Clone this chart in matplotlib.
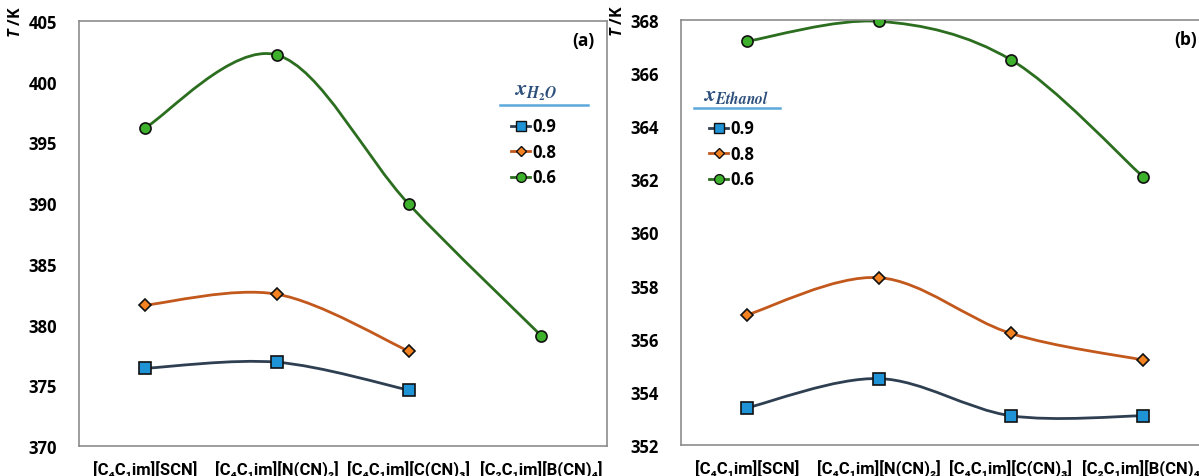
import matplotlib
matplotlib.use('Agg')
import matplotlib.pyplot as plt
from matplotlib.path import Path
from matplotlib.patches import PathPatch
from matplotlib.lines import Line2D

plt.rcParams['font.family'] = ['Open Sans', 'DejaVu Sans']
plt.rcParams['font.weight'] = 'bold'
plt.rcParams['mathtext.fontset'] = 'custom'
plt.rcParams['mathtext.rm'] = 'Open Sans:bold'
plt.rcParams['mathtext.bf'] = 'Open Sans:bold'
plt.rcParams['mathtext.it'] = 'Open Sans:bold:italic'
plt.rcParams['mathtext.bfit'] = 'Open Sans:bold:italic'

# данные
labels = ['[C₄C₁im][SCN]', '[C₄C₁im][N(CN)₂]',
          '[C₄C₁im][C(CN)₃]', '[C₂C₁im][B(CN)₄]']
fractions = ['0.9', '0.8', '0.6']

water_09 = [376.4, 376.9, 374.6]
water_08 = [381.6, 382.5, 377.8]
water_06 = [396.2, 402.2, 389.9, 379.1]

ethanol_09 = [353.4, 354.5, 353.1, 353.1]
ethanol_08 = [356.9, 358.3, 356.2, 355.2]
ethanol_06 = [367.2, 367.95, 366.5, 362.1]

line_colors = ['#2f3f52', '#c2581c', '#2c6e1f']
face_colors = ['#1e93d6', '#f58220', '#3db02c']
markers = ['s', 'D', 'o']
msizes = [8, 6, 8]


def smooth_path(x, y):
    # сглаженная линия как в Excel (кубические Безье)
    pts = list(zip(x, y))
    verts = [pts[0]]
    codes = [Path.MOVETO]
    n = len(pts)
    for i in range(n - 1):
        p0 = pts[i - 1] if i > 0 else pts[i]
        p1 = pts[i]
        p2 = pts[i + 1]
        p3 = pts[i + 2] if i + 2 < n else pts[i + 1]
        c1 = (p1[0] + (p2[0] - p0[0]) / 6, p1[1] + (p2[1] - p0[1]) / 6)
        c2 = (p2[0] - (p3[0] - p1[0]) / 6, p2[1] - (p3[1] - p1[1]) / 6)
        verts += [c1, c2, p2]
        codes += [Path.CURVE4] * 3
    return Path(verts, codes)


W, H = 1199, 477
fig = plt.figure(figsize=(W / 100, H / 100), dpi=100)
ax1 = fig.add_axes([79 / W, 30 / H, 528 / W, 425 / H])
ax2 = fig.add_axes([681 / W, 31 / H, 528 / W, 425 / H])


def draw(ax, series, ylim, yticks, letter, title, title_xy, leg_xy, line_x):
    for k, vals in enumerate(series):
        xs = list(range(len(vals)))
        ax.add_patch(PathPatch(smooth_path(xs, vals), fill=False,
                               edgecolor=line_colors[k], lw=2, zorder=2))
        ax.plot(xs, vals, ls='none', marker=markers[k], ms=msizes[k],
                mfc=face_colors[k], mec='#111111', mew=1.2, zorder=3)
    ax.set_xlim(-0.5, 3.5)
    ax.set_ylim(*ylim)
    ax.set_yticks(yticks)
    ax.set_xticks(range(4))
    ax.set_xticklabels(labels, fontsize=10, fontweight='bold',
                       family=['Roboto', 'DejaVu Sans'])
    ax.tick_params(length=0, labelsize=12, pad=16)
    ax.tick_params(axis='x', pad=10)
    for s in ax.spines.values():
        s.set_color('#8c8c8c')
        s.set_linewidth(1.2)
    ax.text(0.955, 0.955, letter, transform=ax.transAxes, fontsize=12.5,
            fontweight='bold', ha='center', va='center')
    ax.text(-0.12, 1.0, r'$\mathbfit{T}$ /K', transform=ax.transAxes,
            rotation=90, fontsize=11.5, fontweight='bold', ha='center', va='center')
    handles = [Line2D([], [], color=line_colors[k], lw=2, marker=markers[k],
                      ms=msizes[k] - 1, mfc=face_colors[k], mec='#111111')
               for k in range(3)]
    ax.legend(handles, fractions, frameon=False,
              loc='upper left', bbox_to_anchor=(leg_xy[0] / W, 1 - leg_xy[1] / H),
              bbox_transform=fig.transFigure, fontsize=12,
              handlelength=1.1, handletextpad=0.15, labelspacing=0.45,
              borderpad=0)
    fig.text(title_xy[0] / W, 1 - title_xy[1] / H, title, fontsize=16,
             color='#2d4f7c', ha='center', va='center', math_fontfamily='stix')
    fig.add_artist(Line2D([line_x[0] / W, line_x[1] / W],
                          [1 - line_x[2] / H] * 2, color='#5aa8dc', lw=1.8))


draw(ax1, [water_09, water_08, water_06], (370, 405), range(370, 406, 5), '(a)',
     r'$x_{H_2O}$', (536, 93), (503, 110), (500, 588, 106))
draw(ax2, [ethanol_09, ethanol_08, ethanol_06], (352, 368), range(352, 369, 2), '(b)',
     r'$x_{Ethanol}$', (736, 96), (701, 112), (694, 780, 109))

fig.savefig('out.png', dpi=100)
